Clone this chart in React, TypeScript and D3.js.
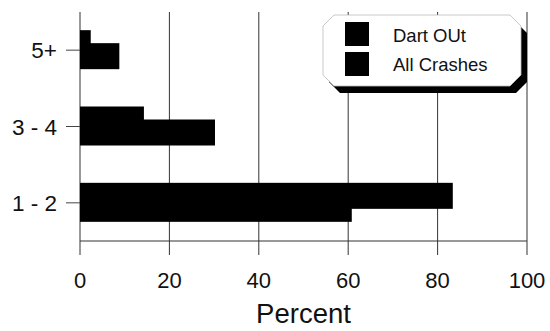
import React from "react";
import * as d3 from "d3";

const categories = ["5+", "3 - 4", "1 - 2"];
const seriesNames = ["Dart OUt", "All Crashes"];
const dartOut = [2.4, 14.3, 83.4];
const allCrashes = [8.8, 30.2, 60.8];
const xTicks = [0, 20, 40, 60, 80, 100];
const xLabel = "Percent";

const W = 550;
const H = 331;
const FONT = "'Liberation Sans', Arial, Helvetica, sans-serif";

export default function App() {
  const x = d3.scaleLinear().domain([0, 100]).range([80, 527]);
  const y = d3.scaleBand<string>().domain(categories).range([12, 241]).padding(0);
  const off = d3.scalePoint<string>().domain(seriesNames).range([-20, -7]);
  const barH = 26;
  const seriesData = [dartOut, allCrashes];

  const bx0 = 323, bx1 = 521, by0 = 15, by1 = 86, ch = 11;
  const boxPts = (dx: number, dy: number) =>
    [
      [bx0 + ch, by0],
      [bx1 - ch, by0],
      [bx1, by0 + ch],
      [bx1, by1 - ch],
      [bx1 - ch, by1],
      [bx0 + ch, by1],
      [bx0, by1 - ch],
      [bx0, by0 + ch],
    ]
      .map(([a, b]) => `${a + dx},${b + dy}`)
      .join(" ");

  return (
    <svg
      width={W}
      height={H}
      style={{ position: "absolute", left: 0, top: 0, background: "#fff" }}
      fontFamily={FONT}
    >
      <rect x={0} y={0} width={W} height={H} fill="#fff" />
      {xTicks.map((t) => (
        <line key={t} x1={x(t)} x2={x(t)} y1={12} y2={255} stroke="#333" strokeWidth={1} />
      ))}
      <line x1={x(0)} x2={x(100)} y1={241} y2={241} stroke="#333" strokeWidth={1} />
      {categories.map((c) => {
        const cy = (y(c) as number) + y.bandwidth() / 2;
        return (
          <g key={c}>
            <line x1={66} x2={x(0)} y1={cy} y2={cy} stroke="#444" strokeWidth={1} />
            <text x={57} y={cy} dy="0.36em" textAnchor="end" fontSize={22.5} fill="#111">
              {c}
            </text>
          </g>
        );
      })}
      {seriesNames.map((s, si) => (
        <g key={s}>
          {categories.map((c, ci) => {
            const cy = (y(c) as number) + y.bandwidth() / 2;
            return (
              <rect
                key={c}
                x={x(0)}
                y={cy + (off(s) as number)}
                width={x(seriesData[si][ci]) - x(0)}
                height={barH}
                fill="#000"
              />
            );
          })}
        </g>
      ))}
      {xTicks.map((t) => (
        <text key={t} x={x(t)} y={288} textAnchor="middle" fontSize={22} fill="#111">
          {t}
        </text>
      ))}
      <text x={(x(0) + x(100)) / 2} y={323} textAnchor="middle" fontSize={27.5} fill="#111">
        {xLabel}
      </text>
      <polygon points={boxPts(6, 7)} fill="#000" />
      <polygon points={boxPts(0, 0)} fill="#fff" stroke="#bbb" strokeWidth={0.8} />
      {seriesNames.map((s, i) => (
        <g key={s}>
          <rect x={345} y={22 + i * 30} width={24} height={24} fill="#000" />
          <text x={393} y={42 + i * 29} fontSize={18.5} fill="#111">
            {s}
          </text>
        </g>
      ))}
    </svg>
  );
}
